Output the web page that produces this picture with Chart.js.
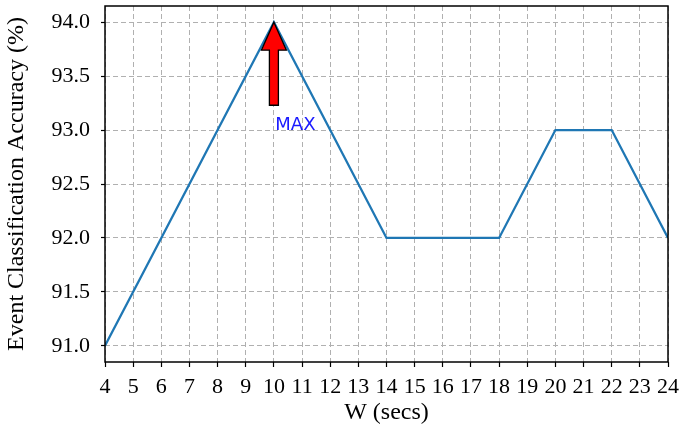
<!DOCTYPE html>
<html>
<head>
<meta charset="utf-8">
<script src="https://cdn.jsdelivr.net/npm/chart.js"></script>
<style>
  html, body { margin: 0; padding: 0; background: #ffffff; }
  #wrap { width: 683px; height: 428px; }
</style>
</head>
<body>
<div id="wrap"><canvas id="accChart"></canvas></div>
<script>
// window length W (secs) and accuracy (%)
const windowSecs = [4, 6, 8, 10, 12, 14, 16, 18, 20, 22, 24];
const accuracy = [91.0, 92.0, 93.0, 94.0, 93.0, 92.0, 92.0, 92.0, 93.0, 93.0, 92.0];

// tick labels
const xTickValues = [4, 5, 6, 7, 8, 9, 10, 11, 12, 13, 14, 15, 16, 17, 18, 19, 20, 21, 22, 23, 24];
const yTickValues = [91.0, 91.5, 92.0, 92.5, 93.0, 93.5, 94.0];

// "MAX" annotation (data coords)
const arrowTip = [10, 94.0];
const arrowTail = [10, 93.23];
const maxLabel = 'MAX';
const maxLabelAt = [10.05, 93.0];

const serif = '"Liberation Serif", "Times New Roman", serif';

// black frame around the plot area + red arrow annotation
const framePlugin = {
    id: 'frame',
    afterDatasetsDraw(chart) {
        const {ctx, chartArea: a, scales} = chart;
        const x = scales.x, y = scales.y;

        // arrow
        const tx = x.getPixelForValue(arrowTip[0]);
        const ty = y.getPixelForValue(arrowTip[1]);
        const by = y.getPixelForValue(arrowTail[1]);
        const headLen = 28, headHalf = 12.5, shaftHalf = 4.5;
        ctx.save();
        ctx.beginPath();
        ctx.moveTo(tx, ty);
        ctx.lineTo(tx + headHalf, ty + headLen);
        ctx.lineTo(tx + shaftHalf, ty + headLen);
        ctx.lineTo(tx + shaftHalf, by);
        ctx.lineTo(tx - shaftHalf, by);
        ctx.lineTo(tx - shaftHalf, ty + headLen);
        ctx.lineTo(tx - headHalf, ty + headLen);
        ctx.closePath();
        ctx.fillStyle = '#ff0000';
        ctx.fill();
        ctx.lineWidth = 1.3;
        ctx.strokeStyle = '#000000';
        ctx.lineJoin = 'miter';
        ctx.stroke();

        // label
        ctx.fillStyle = '#1a1aff';
        ctx.font = '18px "DejaVu Sans", sans-serif';
        ctx.textAlign = 'left';
        ctx.textBaseline = 'alphabetic';
        ctx.fillText(maxLabel, x.getPixelForValue(maxLabelAt[0]), y.getPixelForValue(maxLabelAt[1]));

        // frame
        ctx.lineWidth = 1.5;
        ctx.strokeStyle = '#000000';
        ctx.strokeRect(a.left, a.top, a.right - a.left, a.bottom - a.top);
        ctx.restore();
    }
};

const ctx = document.getElementById('accChart').getContext('2d');
new Chart(ctx, {
    type: 'line',
    data: {
        datasets: [{
            data: windowSecs.map((w, i) => ({x: w, y: accuracy[i]})),
            borderColor: '#1f77b4',
            borderWidth: 2.3,
            pointRadius: 0,
            tension: 0,
            fill: false
        }]
    },
    options: {
        responsive: true,
        maintainAspectRatio: false,
        animation: false,
        layout: { padding: { top: 6, right: 15, left: 0, bottom: 0 } },
        plugins: {
            legend: { display: false },
            tooltip: { enabled: false }
        },
        scales: {
            x: {
                type: 'linear',
                min: 4,
                max: 24,
                afterBuildTicks: s => { s.ticks = xTickValues.map(v => ({value: v})); },
                afterFit: s => { s.height = 66; s.paddingLeft = 0; s.paddingRight = 0; },
                grid: {
                    color: '#b0b0b0',
                    lineWidth: 1,
                    tickColor: '#000000',
                    tickLength: 5,
                    tickWidth: 1.2
                },
                border: { display: false, dash: [5, 3] },
                ticks: {
                    color: '#000000',
                    font: { family: serif, size: 22 },
                    padding: 7,
                    maxRotation: 0,
                    autoSkip: false,
                    callback: v => String(v)
                },
                title: {
                    display: true,
                    text: 'W (secs)',
                    color: '#000000',
                    font: { family: serif, size: 24 },
                    padding: { top: 0, bottom: 1 }
                }
            },
            y: {
                min: 90.85,
                max: 94.15,
                afterBuildTicks: s => { s.ticks = yTickValues.map(v => ({value: v})); },
                afterFit: s => { s.width = 105; s.paddingTop = 0; s.paddingBottom = 0; },
                grid: {
                    color: '#b0b0b0',
                    lineWidth: 1,
                    tickColor: '#000000',
                    tickLength: 4,
                    tickWidth: 1.2
                },
                border: { display: false, dash: [5, 3] },
                ticks: {
                    color: '#000000',
                    font: { family: serif, size: 22 },
                    padding: 11,
                    callback: v => Number(v).toFixed(1)
                },
                title: {
                    display: true,
                    text: 'Event Classification Accuracy (%)',
                    color: '#000000',
                    font: { family: serif, size: 24 },
                    padding: { top: 2, bottom: 0 }
                }
            }
        }
    },
    plugins: [framePlugin]
});
</script>
</body>
</html>
